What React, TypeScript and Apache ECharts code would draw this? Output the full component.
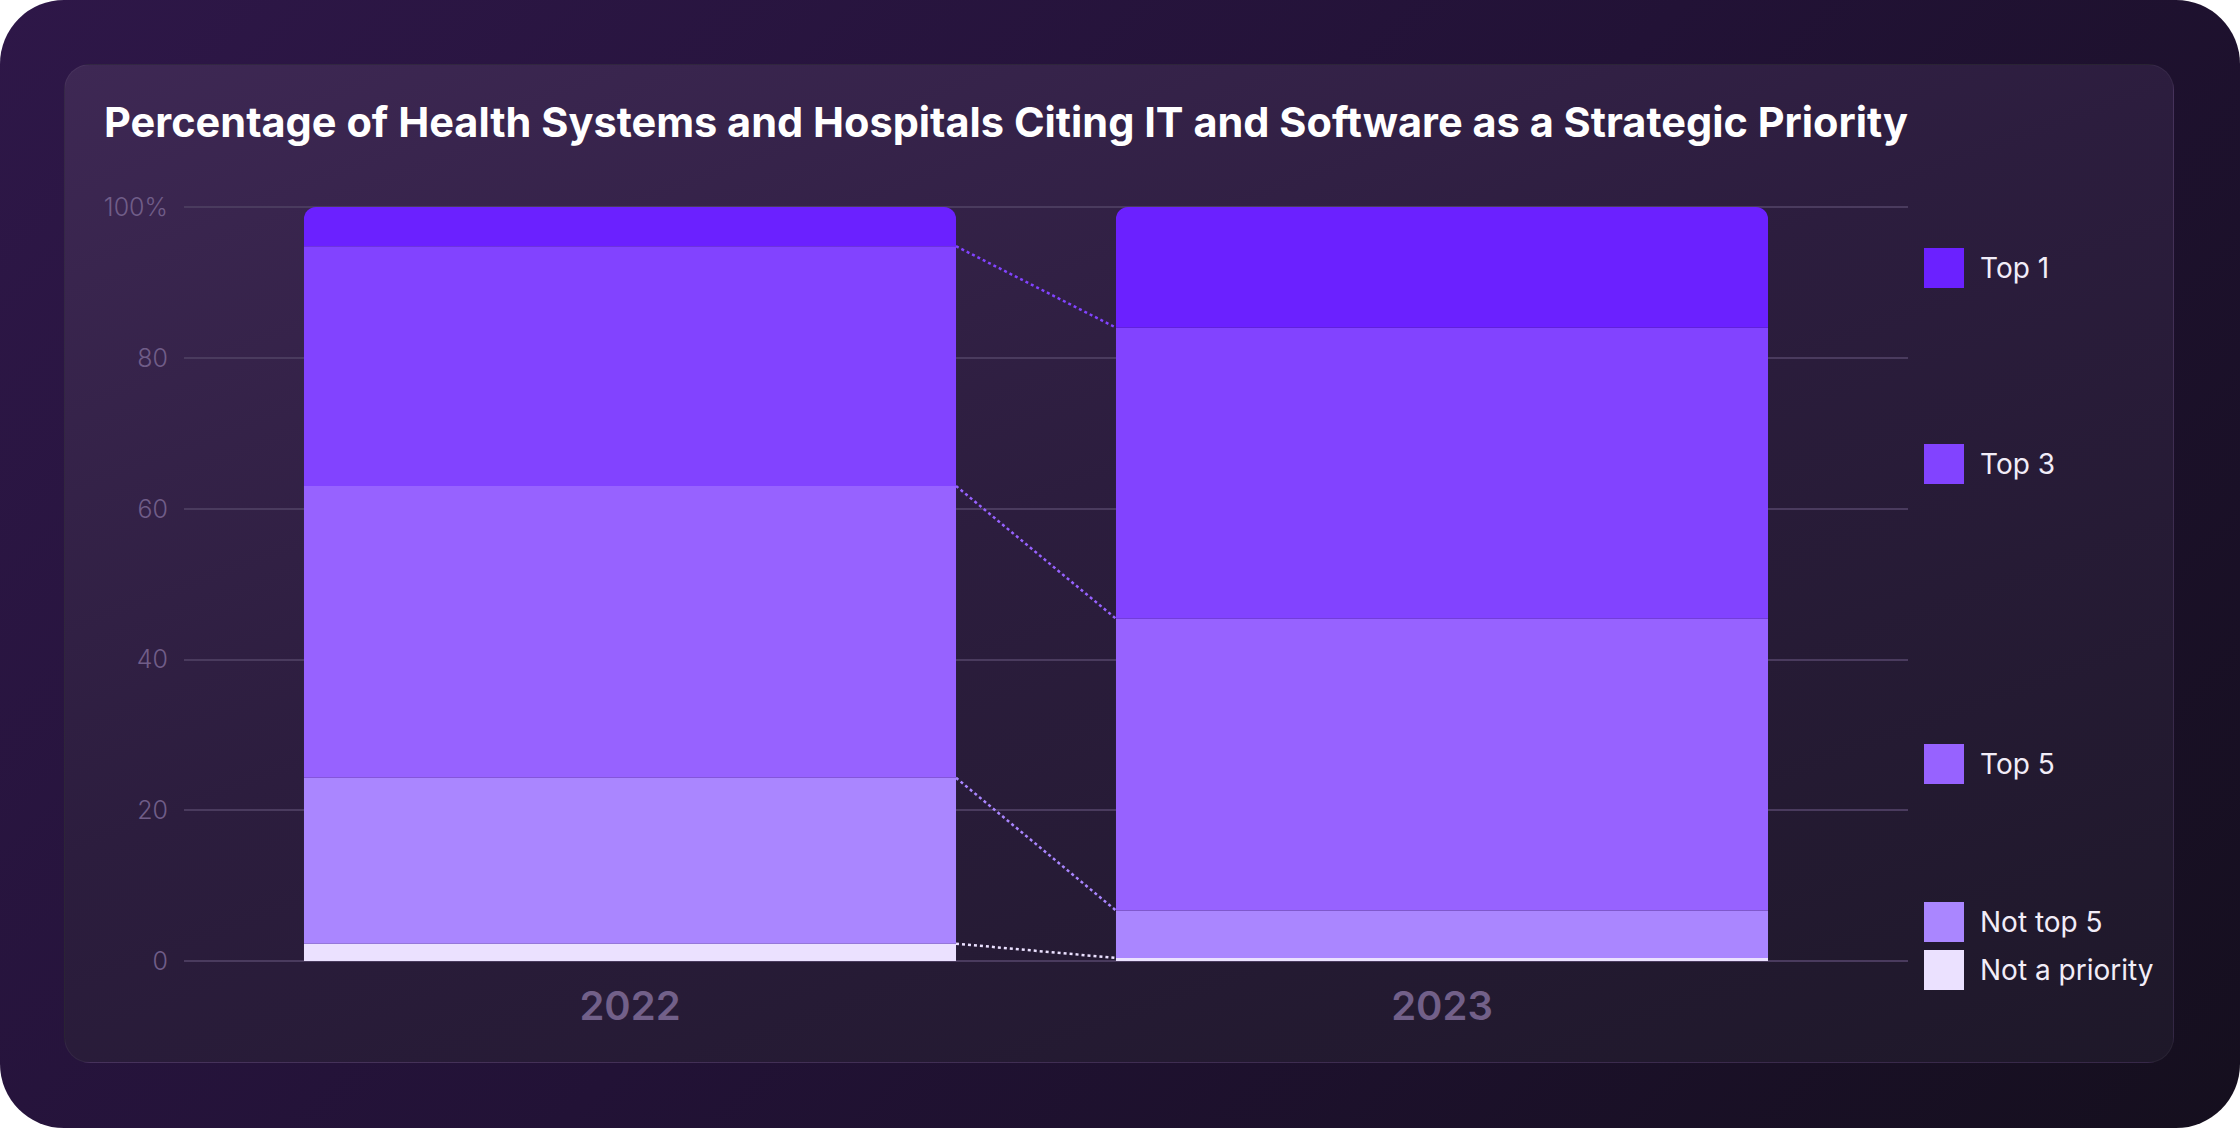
import React, { useEffect, useRef } from "react";
import * as echarts from "echarts";

const years = ["2022", "2023"];
const seriesNames = ["Not a priority", "Not top 5", "Top 5", "Top 3", "Top 1"];
const colors = ["#ebe1ff", "#aa86ff", "#9762ff", "#8243ff", "#6b21ff"];
// values per series, [2022, 2023], stacked from the bottom
const notPriority = [2.3, 0.4];
const notTop5 = [22.0, 6.3];
const top5 = [38.7, 38.7];
const top3 = [31.8, 38.6];
const top1 = [5.2, 16.0];
const yTicks = [0, 20, 40, 60, 80, 100];
const legendTops = [950, 902, 744, 444, 248];

const values = [notPriority, notTop5, top5, top3, top1];
const BAR_FRAC = 0.803;

export default function App() {
  const chartRef = useRef<HTMLDivElement>(null);

  useEffect(() => {
    if (!chartRef.current) return;
    const chart = echarts.init(chartRef.current, undefined, { renderer: "svg" });

    // cumulative tops of the lower four segments, used for the connector lines
    const bounds = [0, 1, 2, 3].map((i) => {
      const c = [0, 1].map((y) => values.slice(0, i + 1).reduce((s, v) => s + v[y], 0));
      return { c, color: colors[i] };
    });

    const option = {
      animation: false,
      title: {
        text: "Percentage of Health Systems and Hospitals Citing IT and Software as a Strategic Priority",
        left: 104,
        top: 101,
        padding: 0,
        textStyle: { color: "#ffffff", fontFamily: "Inter", fontWeight: 700, fontSize: 41.5 },
      },
      grid: [
        { left: 184, right: 332, top: 207, bottom: 167 },
        { left: 224, right: 392, top: 207, bottom: 167 },
      ],
      xAxis: [
        { type: "category", gridIndex: 0, data: years, show: false },
        {
          type: "category",
          gridIndex: 1,
          data: years,
          axisLine: { show: false },
          axisTick: { show: false },
          axisLabel: {
            margin: 24,
            color: "#726089",
            fontFamily: "Inter",
            fontWeight: 600,
            fontSize: 40,
          },
        },
      ],
      yAxis: [
        {
          type: "value",
          gridIndex: 0,
          min: 0,
          max: 100,
          interval: 20,
          axisLine: { show: false },
          axisTick: { show: false },
          splitLine: { lineStyle: { color: "#4a3b5e", width: 2 } },
          axisLabel: {
            margin: 16,
            color: "#705d88",
            fontFamily: "Inter",
            fontWeight: 300,
            fontSize: 25,
            formatter: (v: number) => (v === yTicks[yTicks.length - 1] ? `${v}%` : `${v}`),
          },
        },
        { type: "value", gridIndex: 1, min: 0, max: 100, interval: 20, show: false },
      ],
      legend: seriesNames.map((name, i) => ({
        data: [name],
        left: 1924,
        top: legendTops[i],
        padding: 0,
        icon: "rect",
        itemWidth: 40,
        itemHeight: 40,
        selectedMode: false,
        formatter: (n: string) => `{t|${n}}`,
        textStyle: {
          rich: {
            t: { color: "#f2edf8", fontFamily: "Inter", fontSize: 28, padding: [0, 0, 0, 11] },
          },
        },
      })),
      series: [
        ...seriesNames.map((name, i) => ({
          name,
          type: "bar",
          stack: "total",
          xAxisIndex: 1,
          yAxisIndex: 1,
          barWidth: `${BAR_FRAC * 100}%`,
          data: values[i],
          itemStyle: {
            color: colors[i],
            borderRadius: i === seriesNames.length - 1 ? [12, 12, 0, 0] : 0,
          },
        })),
        {
          type: "custom",
          xAxisIndex: 1,
          yAxisIndex: 1,
          silent: true,
          data: bounds.map((b) => [0, b.c[0]]),
          renderItem: (params: any, api: any) => {
            const b = bounds[params.dataIndex];
            const half = (api.size([1, 0])[0] * BAR_FRAC) / 2;
            const p0 = api.coord([0, b.c[0]]);
            const p1 = api.coord([1, b.c[1]]);
            return {
              type: "line",
              shape: { x1: p0[0] + half, y1: p0[1], x2: p1[0] - half, y2: p1[1] },
              style: { stroke: b.color, lineWidth: 2.5, lineDash: [3, 3] },
            };
          },
        },
      ],
    };

    chart.setOption(option);
    return () => chart.dispose();
  }, []);

  return (
    <div style={{ position: "fixed", left: 0, top: 0, width: 2240, height: 1128, background: "#ffffff" }}>
      <div
        style={{
          position: "absolute",
          inset: 0,
          borderRadius: 64,
          background: "linear-gradient(135deg, #2e1748 0%, #221236 50%, #150f1e 100%)",
        }}
      />
      <div
        style={{
          position: "absolute",
          left: 64,
          top: 64,
          width: 2110,
          height: 999,
          borderRadius: 26,
          boxSizing: "border-box",
          border: "1px solid rgba(255,255,255,0.05)",
          background: "linear-gradient(160deg, #3e2854 0%, #2c1d3e 45%, #1e1829 100%)",
        }}
      />
      <div ref={chartRef} style={{ position: "absolute", left: 0, top: 0, width: 2240, height: 1128 }} />
    </div>
  );
}
